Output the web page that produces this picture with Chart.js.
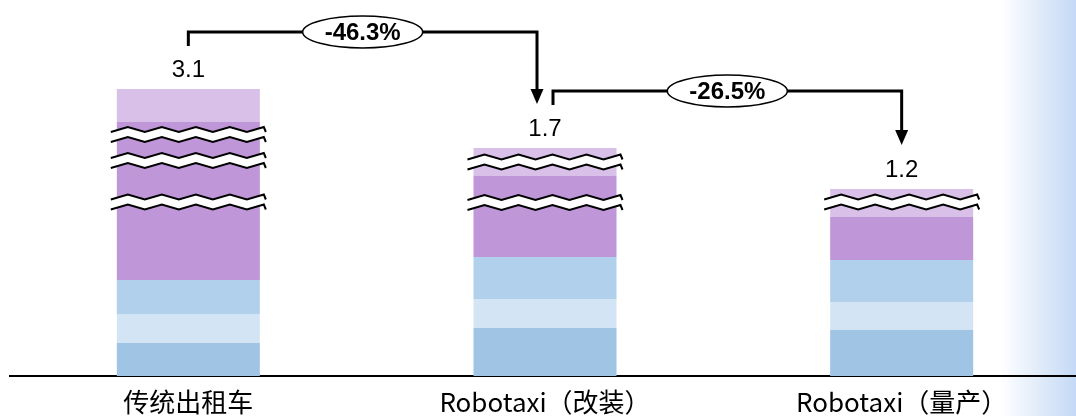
<!DOCTYPE html>
<html>
<head>
<meta charset="utf-8">
<script src="https://cdn.jsdelivr.net/npm/chart.js@4/dist/chart.umd.min.js"></script>
<style>
  html, body { margin: 0; padding: 0; overflow: hidden; width: 1076px; height: 416px;
    background: linear-gradient(to right, #ffffff 0px, #ffffff 1000px, #c4d9f5 1076px); }
  #wrap { position: absolute; left: 0; top: 0; width: 1080px; height: 416px; }
</style>
</head>
<body>
<div id="wrap"><canvas id="c" width="1080" height="416"></canvas></div>
<script>
// Categories (x-axis labels)
const categories = ['传统出租车', 'Robotaxi（改装）', 'Robotaxi（量产）'];
// Total values shown above bars
const totals = ['3.1', '1.7', '1.2'];
// Change labels between consecutive bars
const changes = ['-46.3%', '-26.5%'];
// Stacked segment heights (broken axis, visual units), bottom to top
const seg1 = [0.33, 0.48, 0.46];
const seg2 = [0.29, 0.29, 0.28];
const seg3 = [0.34, 0.42, 0.42];
const seg4 = [1.58, 0.81, 0.43];
const seg5 = [0.33, 0.28, 0.28];
// Axis-break positions (value units) per bar
const breaks = [[2.415, 2.155, 1.74], [2.14, 1.735], [1.74]];

const segColors = ['#a0c4e4', '#d3e5f4', '#b0d0ec', '#bf96d8', '#d9c0e8'];
const segs = [seg1, seg2, seg3, seg4, seg5];

function zigzag(x0, x1, yc, amp, half, reverse) {
  const pts = [];
  let k = 0;
  for (let x = x0; x < x1; x += half, k++) pts.push([x, yc + (k % 2 ? -amp : amp)]);
  pts.push([x1, yc + (k % 2 ? -amp : amp)]);
  if (reverse) pts.reverse();
  return pts;
}

const overlay = {
  id: 'overlay',
  afterDatasetsDraw(chart) {
    const ctx = chart.ctx;
    const ys = chart.scales.y;
    const meta = chart.getDatasetMeta(0);
    const centers = [], labelY = [];
    ctx.save();
    categories.forEach((c, i) => {
      const bar = meta.data[i];
      const cx = bar.x, half = bar.width / 2;
      centers.push(cx);
      // breaks
      breaks[i].forEach(v => {
        const yc = ys.getPixelForValue(v);
        const x0 = cx - half - 6, x1 = cx + half + 6;
        const up = zigzag(x0, x1, yc - 5, 2.5, 17, false);
        const lo = zigzag(x0, x1, yc + 5, 2.5, 17, true);
        ctx.beginPath();
        up.forEach((p, j) => j ? ctx.lineTo(p[0], p[1]) : ctx.moveTo(p[0], p[1]));
        lo.forEach(p => ctx.lineTo(p[0], p[1]));
        ctx.closePath();
        ctx.fillStyle = '#ffffff';
        ctx.fill();
        ctx.strokeStyle = '#000';
        ctx.lineWidth = 2;
        ctx.lineJoin = 'miter';
        [up, lo].forEach(line => {
          ctx.beginPath();
          line.forEach((p, j) => j ? ctx.lineTo(p[0], p[1]) : ctx.moveTo(p[0], p[1]));
          ctx.stroke();
        });
      });
      // total label
      let total = 0;
      segs.forEach(s => total += s[i]);
      const ty = ys.getPixelForValue(total) - 19;
      labelY.push(ty);
      ctx.fillStyle = '#000';
      ctx.font = '24px "Liberation Sans", Arial, sans-serif';
      ctx.textAlign = 'center';
      ctx.textBaseline = 'middle';
      ctx.fillText(totals[i], cx, ty);
    });
    // connectors
    const n = categories.length;
    changes.forEach((txt, k) => {
      const sx = centers[k] + (k > 0 ? 8 : 0);
      const tx = centers[k + 1] - (k + 1 < n - 1 ? 8 : 0);
      const start = labelY[k] - 24;
      const hy = start - 14;
      const tip = labelY[k + 1] - 25;
      ctx.strokeStyle = '#000';
      ctx.lineWidth = 3;
      ctx.lineJoin = 'miter';
      ctx.beginPath();
      ctx.moveTo(sx, start);
      ctx.lineTo(sx, hy);
      ctx.lineTo(tx, hy);
      ctx.lineTo(tx, tip - 12);
      ctx.stroke();
      ctx.fillStyle = '#000';
      ctx.beginPath();
      ctx.moveTo(tx - 6.5, tip - 15);
      ctx.lineTo(tx + 6.5, tip - 15);
      ctx.lineTo(tx, tip);
      ctx.closePath();
      ctx.fill();
      const ex = (sx + tx) / 2;
      ctx.beginPath();
      ctx.ellipse(ex, hy, 60, 16, 0, 0, Math.PI * 2);
      ctx.fillStyle = '#fff';
      ctx.fill();
      ctx.lineWidth = 1.5;
      ctx.stroke();
      ctx.fillStyle = '#000';
      ctx.font = 'bold 24px "Liberation Sans", Arial, sans-serif';
      ctx.textAlign = 'center';
      ctx.textBaseline = 'middle';
      ctx.fillText(txt, ex, hy + 1);
    });
    ctx.restore();
  }
};

new Chart(document.getElementById('c'), {
  type: 'bar',
  data: {
    labels: categories,
    datasets: segs.map((s, i) => ({
      data: s,
      backgroundColor: segColors[i],
      borderWidth: 0,
      barPercentage: 0.401,
      categoryPercentage: 1.0
    }))
  },
  options: {
    responsive: false,
    animation: false,
    devicePixelRatio: 1,
    layout: { padding: { left: 10, right: 0, top: 0, bottom: 0 } },
    plugins: { legend: { display: false }, tooltip: { enabled: false } },
    scales: {
      x: {
        stacked: true,
        grid: { display: false, drawTicks: false },
        border: { display: true, color: '#000', width: 2 },
        ticks: {
          color: '#000',
          padding: 11,
          font: { family: '"Liberation Sans Narrow", "Noto Sans CJK SC", sans-serif', size: 26 }
        },
        afterFit: s => { s.height = 40; }
      },
      y: {
        stacked: true,
        display: false,
        min: 0,
        max: 3.76
      }
    }
  },
  plugins: [overlay]
});
</script>
</body>
</html>
